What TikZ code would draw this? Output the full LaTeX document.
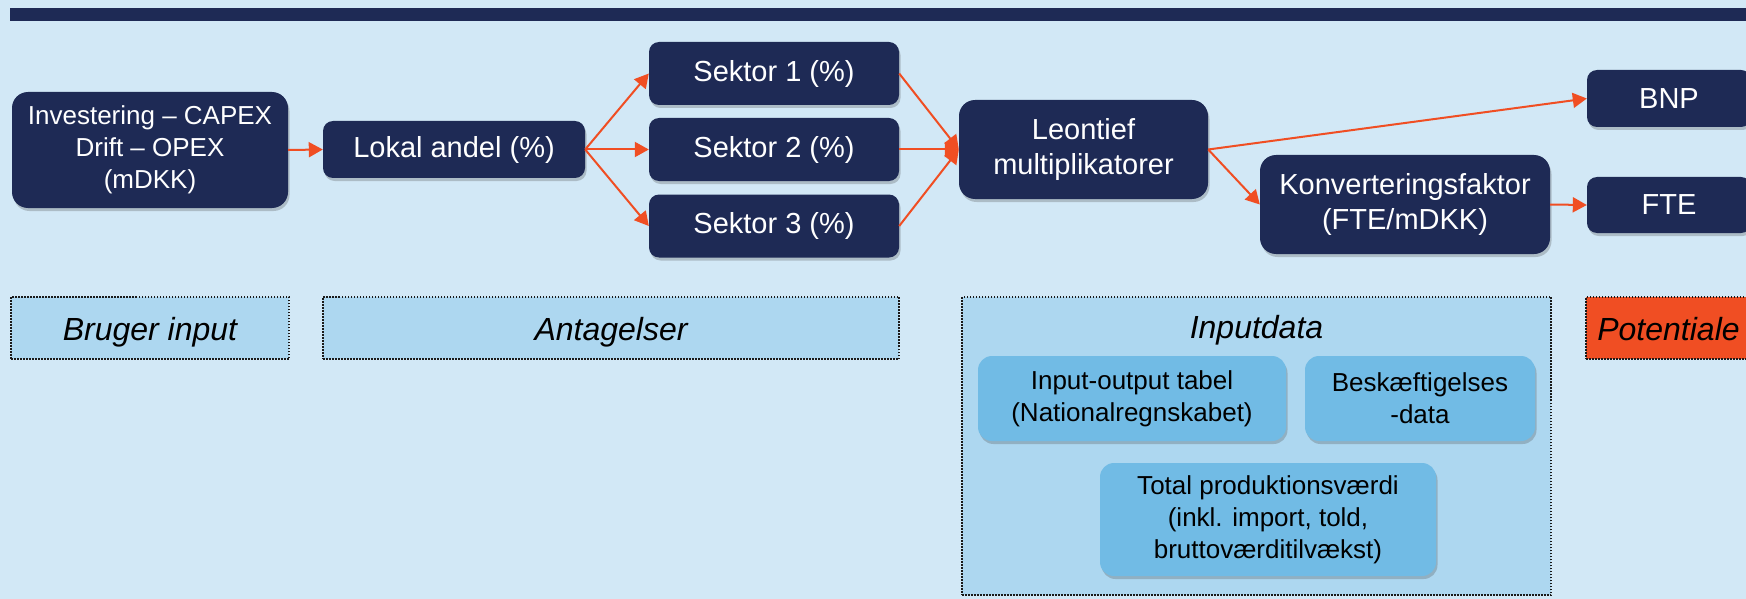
\documentclass[tikz,border=0pt]{standalone}
\usepackage{fontspec}
\setmainfont{Liberation Sans}
\usetikzlibrary{arrows.meta,shadows}

\definecolor{bgblue}{HTML}{D2E8F6}
\definecolor{navy}{HTML}{1E2A55}
\definecolor{flow}{HTML}{F04E23}
\definecolor{panel}{HTML}{ADD7F0}
\definecolor{databox}{HTML}{71BBE5}
\definecolor{dotline}{HTML}{1A1A1A}

\tikzset{
  softshadow/.style={drop shadow={opacity=0.28, shadow xshift=1.5pt, shadow yshift=-3pt, fill=black!70}},
  navybox/.style={fill=navy, text=white, rounded corners=#1, inner sep=0pt,
    align=center, font=\fontsize{29}{35}\selectfont, softshadow},
  navybox/.default=10pt,
  databoxstyle/.style={fill=databox, text=black, rounded corners=14pt, inner sep=0pt,
    align=center, font=\fontsize{26}{32}\selectfont, softshadow},
  framebox/.style={fill=panel, draw=dotline, line width=1.6pt,
    dash pattern=on 1.5pt off 1.5pt, inner sep=0pt},
  framelabel/.style={anchor=base, text=black, font=\fontsize{32}{38}\selectfont\itshape},
  flowarrow/.style={draw=flow, line width=2pt, -{Triangle[length=14pt,width=15pt]}}
}

\begin{document}
\begin{tikzpicture}[x=1pt,y=-1pt]
  % canvas
  \useasboundingbox (0,0) rectangle (1746,599);
  \clip (0,0) rectangle (1746,599);
  \fill[bgblue] (0,0) rectangle (1746,599);
  \fill[navy] (10,8) rectangle (1760,21);

  % calculation chain
  \node[navybox=16pt, minimum width=276pt, minimum height=116pt,
        font=\fontsize{26}{32}\selectfont] (inv) at (150,150)
        {Investering – CAPEX\\Drift – OPEX\\(mDKK)};
  \node[navybox, minimum width=262pt, minimum height=57pt] (lok) at (454,149.5) {Lokal andel (\%)};
  \node[navybox, minimum width=250pt, minimum height=63pt] (s1) at (774,73.5) {Sektor 1 (\%)};
  \node[navybox, minimum width=250pt, minimum height=63pt] (s2) at (774,149.5) {Sektor 2 (\%)};
  \node[navybox, minimum width=250pt, minimum height=63pt] (s3) at (774,226) {Sektor 3 (\%)};
  \node[navybox=16pt, minimum width=249pt, minimum height=99pt] (leo) at (1083.5,149.5)
        {Leontief\\multiplikatorer};
  \node[navybox=16pt, minimum width=290pt, minimum height=99pt] (konv) at (1405,204.5)
        {Konverteringsfaktor\\(FTE/mDKK)};
  \node[navybox, minimum width=164pt, minimum height=57pt] (bnp) at (1669,98.5) {BNP};
  \node[navybox, minimum width=164pt, minimum height=56pt] (fte) at (1669,205) {FTE};

  % connectors
  \draw[flowarrow] (inv.east) -- (lok.west);
  \draw[flowarrow] (lok.east) -- (s1.west);
  \draw[flowarrow] (lok.east) -- (s2.west);
  \draw[flowarrow] (lok.east) -- (s3.west);
  \draw[flowarrow] (s1.east) -- (leo.west);
  \draw[flowarrow] (s2.east) -- (leo.west);
  \draw[flowarrow] (s3.east) -- (leo.west);
  \draw[flowarrow] (leo.east) -- (bnp.west);
  \draw[flowarrow] (leo.east) -- (konv.west);
  \draw[flowarrow] (konv.east) -- (fte.west);

  % category frames
  \node[framebox, minimum width=278pt, minimum height=62pt] (bruger) at (150,328) {};
  \node[framelabel] at (150,340) {Bruger input};
  \node[framebox, minimum width=576pt, minimum height=62pt] (antag) at (611,328) {};
  \node[framelabel] at (611,340) {Antagelser};
  \node[framebox, minimum width=589pt, minimum height=298pt] (indata) at (1256.5,446) {};
  \node[framelabel] at (1256.5,338) {Inputdata};
  \node[framebox, fill=flow, minimum width=165pt, minimum height=62pt] (pot) at (1668.5,328) {};
  \node[framelabel] at (1668.5,340) {Potentiale};

  % data sources
  \node[databoxstyle, minimum width=308pt, minimum height=85pt] (io) at (1132,398.5)
        {Input-output tabel\\(Nationalregnskabet)};
  \node[databoxstyle, minimum width=230pt, minimum height=85pt] (besk) at (1420,398.5)
        {Beskæftigelses\\-data};
  \node[databoxstyle, minimum width=336pt, minimum height=113pt] (total) at (1268,519.5)
        {Total produktionsværdi\\(inkl. import, told,\\bruttoværditilvækst)};
\end{tikzpicture}
\end{document}
